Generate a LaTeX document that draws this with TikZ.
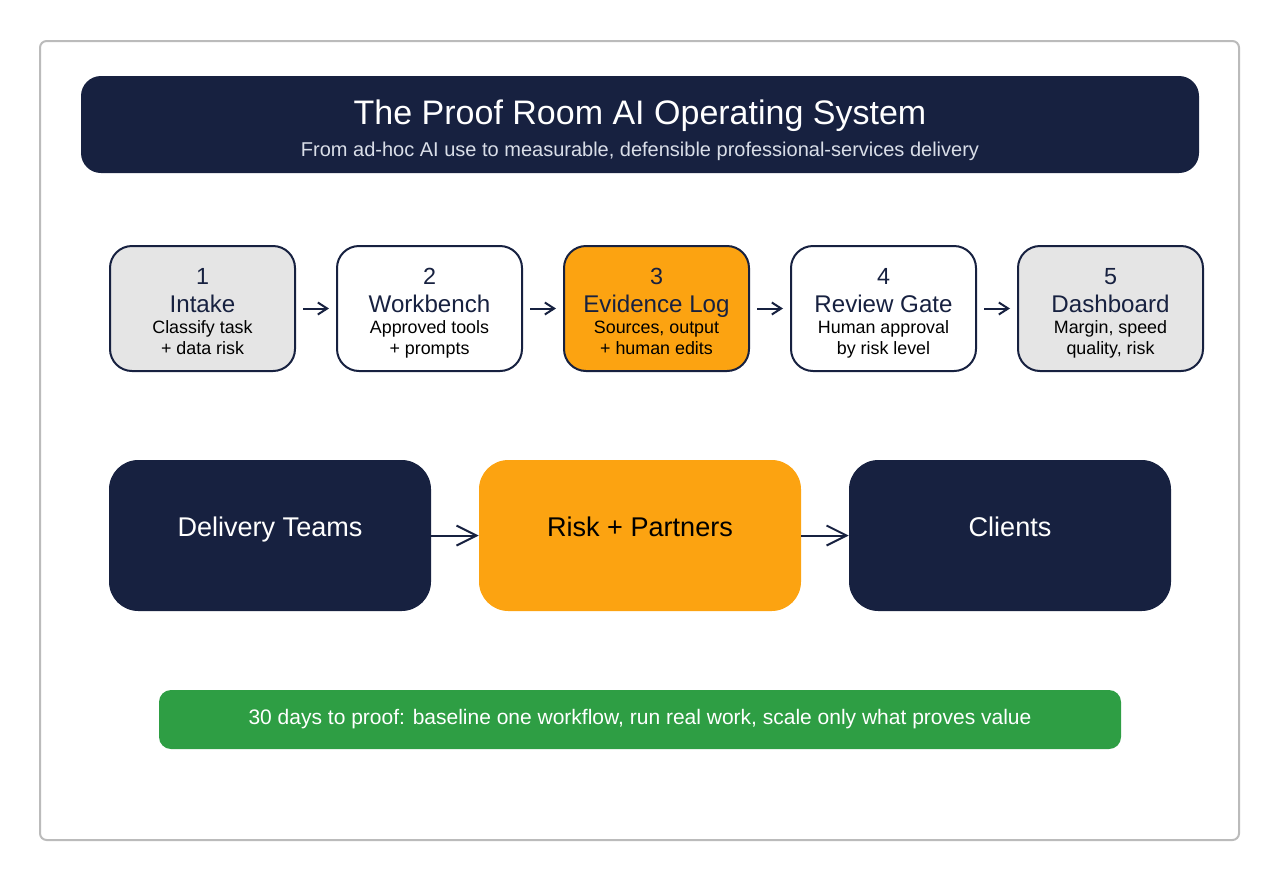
\documentclass[tikz,border=0pt]{standalone}
\usepackage{fontspec}
\setmainfont{Liberation Sans}
\usetikzlibrary{arrows.meta}
\definecolor{navy}{HTML}{172140}
\definecolor{amber}{HTML}{FCA311}
\definecolor{leaf}{HTML}{2E9E44}
\definecolor{pale}{HTML}{E5E5E5}
\definecolor{frame}{HTML}{BBBBBB}
\definecolor{subt}{HTML}{D9DEE8}
\newcommand{\fs}[1]{\fontsize{#1}{#1}\selectfont}
\tikzset{
  stepbox/.style={draw=navy, line width=1.5pt, rounded corners=16.5pt, minimum width=138.75pt, minimum height=93.75pt, inner sep=0pt},
  bigbox/.style={rounded corners=22pt, minimum width=241.5pt, minimum height=113.25pt, inner sep=0pt},
  numtxt/.style={anchor=base, text=navy, font=\fs{17.5pt}, inner sep=0pt},
  titletxt/.style={anchor=base, text=navy, font=\fs{18.1pt}, inner sep=0pt},
  desctxt/.style={anchor=base, text=black, font=\fs{13.4pt}, inner sep=0pt},
  bigtxt/.style={anchor=base, font=\fs{20.3pt}, inner sep=0pt},
  smallarrow/.style={draw=navy, line width=1.5pt, -{Straight Barb[length=7pt, width=9pt, line width=1.5pt]}, shorten <=5.25pt, shorten >=5.25pt},
  bigarrow/.style={draw=navy, line width=1.5pt, -{Straight Barb[length=15pt, width=15pt, line width=1.5pt]}},
}
\begin{document}
\begin{tikzpicture}[x=0.75pt, y=-0.75pt]
\useasboundingbox (0,0) rectangle (1280,882);
% outer frame
\draw[frame, line width=1.5pt, rounded corners=5pt] (40,41) rectangle (1239,840);
% header
\node[fill=navy, rounded corners=15pt, minimum width=838.5pt, minimum height=72.75pt, inner sep=0pt] (header) at (640,124.5) {};
\node[anchor=base, text=white, font=\fs{25.5pt}, inner sep=0pt] (title) at (640,124) {The Proof Room AI Operating System};
\node[anchor=base, text=subt, font=\fs{15pt}, inner sep=0pt] (subtitle) at (640,156) {From ad-hoc AI use to measurable, defensible professional-services delivery};
% step boxes
\node[stepbox, fill=pale] (s1) at (202.5,308.5) {};
\node[stepbox, fill=white] (s2) at (429.5,308.5) {};
\node[stepbox, fill=amber] (s3) at (656.5,308.5) {};
\node[stepbox, fill=white] (s4) at (883.5,308.5) {};
\node[stepbox, fill=pale] (s5) at (1110.5,308.5) {};
% step texts
\node[numtxt] (n1) at (202.5,284) {1};
\node[titletxt] (t1) at (202.5,312) {Intake};
\node[desctxt] (d1a) at (202.5,333) {Classify task};
\node[desctxt] (d1b) at (202.5,354) {+ data risk};
\node[numtxt] (n2) at (429.5,284) {2};
\node[titletxt] (t2) at (429.5,312) {Workbench};
\node[desctxt] (d2a) at (429.5,333) {Approved tools};
\node[desctxt] (d2b) at (429.5,354) {+ prompts};
\node[numtxt] (n3) at (656.5,284) {3};
\node[titletxt] (t3) at (656.5,312) {Evidence Log};
\node[desctxt] (d3a) at (656.5,333) {Sources, output};
\node[desctxt] (d3b) at (656.5,354) {+ human edits};
\node[numtxt] (n4) at (883.5,284) {4};
\node[titletxt] (t4) at (883.5,312) {Review Gate};
\node[desctxt] (d4a) at (883.5,333) {Human approval};
\node[desctxt] (d4b) at (883.5,354) {by risk level};
\node[numtxt] (n5) at (1110.5,284) {5};
\node[titletxt] (t5) at (1110.5,312) {Dashboard};
\node[desctxt] (d5a) at (1110.5,333) {Margin, speed};
\node[desctxt] (d5b) at (1110.5,354) {quality, risk};
% step arrows
\draw[smallarrow] (s1) -- (s2);
\draw[smallarrow] (s2) -- (s3);
\draw[smallarrow] (s3) -- (s4);
\draw[smallarrow] (s4) -- (s5);
% bottom row
\node[bigbox, fill=navy] (b1) at (270,535.5) {};
\node[bigbox, fill=amber] (b2) at (640,535.5) {};
\node[bigbox, fill=navy] (b3) at (1010,535.5) {};
\node[bigtxt, text=white] (l1) at (270,536) {Delivery Teams};
\node[bigtxt, text=black] (l2) at (640,536) {Risk + Partners};
\node[bigtxt, text=white] (l3) at (1010,536) {Clients};
\draw[bigarrow] (b1) -- (b2);
\draw[bigarrow] (b2) -- (b3);
% footer bar
\node[fill=leaf, rounded corners=9pt, minimum width=721.5pt, minimum height=44.25pt, inner sep=0pt] (bar) at (640,719.5) {};
\node[anchor=base, text=white, font=\fs{15.75pt}, inner sep=0pt] (bartxt) at (640,724) {30 days to proof: baseline one workflow, run real work, scale only what proves value};
\end{tikzpicture}
\end{document}
